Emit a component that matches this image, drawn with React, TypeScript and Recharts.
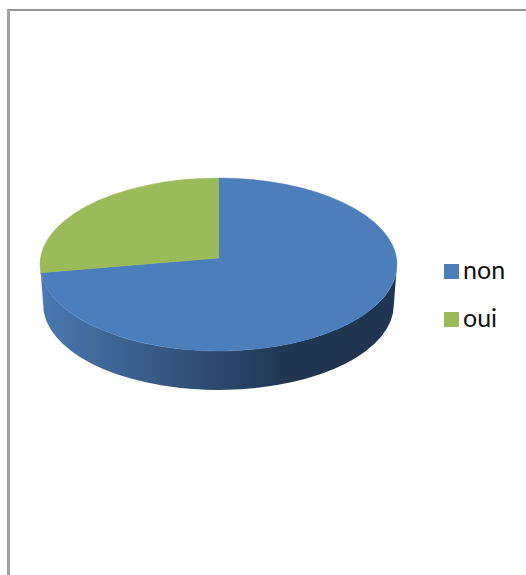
import React from "react";
import { PieChart, Pie, Cell, Legend } from "recharts";

const categories = ["non", "oui"];
const shares = [73.5, 26.5];
const colors = ["#4c7ebb", "#9bbb59"];

const data = categories.map((name, i) => ({ name, value: shares[i] }));

const SQUASH = 86.5 / 178.5;
const APEX_LIFT = 6.5;
const DEPTH = 39;
const BOTTOM_SHRINK = 0.982;
const RAD = Math.PI / 180;

function PieSlice(props: any) {
  const { cx, cy, outerRadius, startAngle, endAngle, fill } = props;
  const ry = outerRadius * SQUASH;
  const pt = (a: number, rx = outerRadius, r2 = ry, y = cy) => [
    cx + rx * Math.cos(a * RAD),
    y - r2 * Math.sin(a * RAD),
  ];
  const [x0, y0] = pt(startAngle);
  const [x1, y1] = pt(endAngle);
  const large = Math.abs(endAngle - startAngle) > 180 ? 1 : 0;
  const sweep = endAngle < startAngle ? 1 : 0;
  const top = `M${cx},${cy - APEX_LIFT}L${x0},${y0}A${outerRadius},${ry} 0 ${large} ${sweep} ${x1},${y1}Z`;

  const lo = Math.max(Math.min(startAngle, endAngle), -180);
  const hi = Math.min(Math.max(startAngle, endAngle), 0);
  const a0 = Math.min(startAngle, endAngle);
  const a1 = Math.max(startAngle, endAngle);
  let wall = null;
  if (a0 < 0 && a1 > -180 && hi > lo) {
    const [wx0, wy0] = pt(hi);
    const [wx1, wy1] = pt(lo);
    const brx = outerRadius * BOTTOM_SHRINK;
    const bry = ry * BOTTOM_SHRINK;
    const [bx1, by1] = pt(lo, brx, bry, cy + DEPTH + 1.5);
    const [bx0, by0] = pt(hi, brx, bry, cy + DEPTH + 1.5);
    const d = `M${wx0},${wy0}A${outerRadius},${ry} 0 0 1 ${wx1},${wy1}L${bx1},${by1}A${brx},${bry} 0 0 0 ${bx0},${by0}Z`;
    wall = <path d={d} fill="url(#wallShade)" stroke="none" />;
  }
  return (
    <g>
      {wall}
      <path d={top} fill={fill} stroke={fill} strokeWidth={0.5} />
    </g>
  );
}

function LegendBox() {
  return (
    <div>
      {categories.map((name, i) => (
        <div key={name} style={{ position: "relative", height: 48, width: 80 }}>
          <div style={{ position: "absolute", left: 0, top: 0, width: 15, height: 15, background: colors[i] }} />
          <span
            style={{
              position: "absolute",
              left: 19,
              top: -10,
              lineHeight: "30px",
              color: "#111",
              fontFamily: "Lato, sans-serif",
              fontSize: 25,
            }}
          >
            {name}
          </span>
        </div>
      ))}
    </div>
  );
}

export default function App() {
  return (
    <div style={{ position: "absolute", left: 0, top: 0, width: 526, height: 575, background: "#fff", overflow: "hidden" }}>
      <div style={{ position: "absolute", left: 7, top: 9, width: 519, height: 566, boxSizing: "border-box", borderLeft: "3px solid #a0a0a0", borderTop: "2px solid #969696" }} />
      <div style={{ position: "absolute", left: 0, top: 0 }}>
        <PieChart width={526} height={575} margin={{ top: 0, right: 0, bottom: 0, left: 0 }}>
          <defs>
            <linearGradient id="wallShade" gradientUnits="userSpaceOnUse" x1={42} y1={0} x2={290} y2={0}>
              <stop offset="0" stopColor="#4a78b0" />
              <stop offset="1" stopColor="#1f3551" />
            </linearGradient>
          </defs>
          <Pie
            data={data}
            dataKey="value"
            nameKey="name"
            cx={218.5}
            cy={264.5}
            innerRadius={0}
            outerRadius={178.5}
            startAngle={90}
            endAngle={-270}
            paddingAngle={0}
            stroke="none"
            shape={PieSlice}
            isAnimationActive={false}
          >
            {data.map((d, i) => (
              <Cell key={d.name} fill={colors[i]} />
            ))}
          </Pie>
          <Legend
            layout="vertical"
            align="right"
            verticalAlign="top"
            content={<LegendBox />}
            wrapperStyle={{ position: "absolute", left: 444, top: 264, width: 80 }}
          />
        </PieChart>
      </div>
    </div>
  );
}
